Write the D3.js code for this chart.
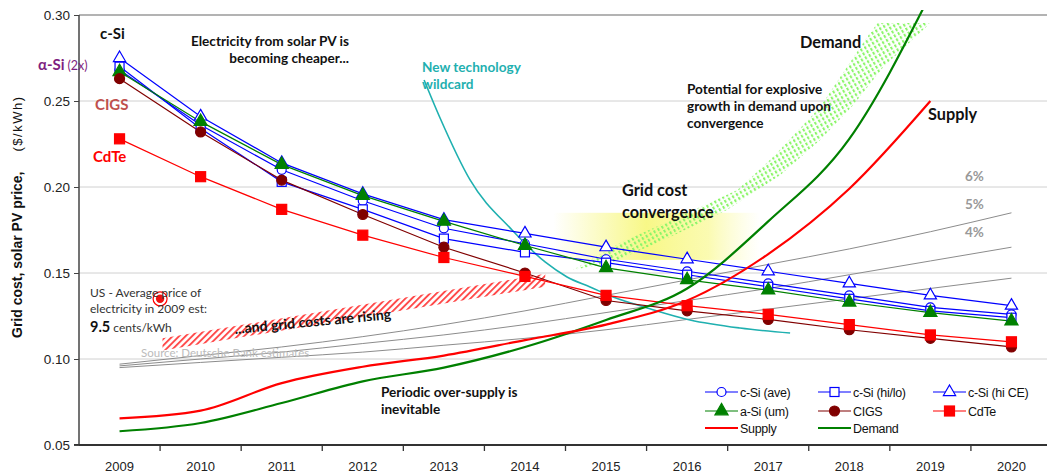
<!DOCTYPE html>
<html>
<head>
<meta charset="utf-8">
<script src="https://cdn.jsdelivr.net/npm/d3@7"></script>
<style>
    body { margin: 0; background: #fff; }
    svg { display: block; font-family: "Liberation Sans", Arial, sans-serif; }
    .note { font-family: Lato, "Open Sans", sans-serif; font-weight: bold; }
</style>
</head>
<body>
<div id="chart"></div>
<script>
// ---- data ($/kWh) ----
const years = [2009, 2010, 2011, 2012, 2013, 2014, 2015, 2016, 2017, 2018, 2019, 2020];

const cSiAve  = [0.268, 0.236, 0.210, 0.192, 0.176, 0.167, 0.158, 0.151, 0.144, 0.137, 0.130, 0.126];
const cSiHiLo = [0.270, 0.234, 0.203, 0.187, 0.170, 0.162, 0.156, 0.149, 0.142, 0.135, 0.128, 0.124];
const cSiHiCE = [0.275, 0.241, 0.214, 0.196, 0.181, 0.173, 0.165, 0.158, 0.151, 0.144, 0.137, 0.131];
const aSi     = [0.267, 0.238, 0.213, 0.195, 0.180, 0.166, 0.153, 0.146, 0.140, 0.133, 0.127, 0.122];
const cigs    = [0.263, 0.232, 0.204, 0.184, 0.165, 0.150, 0.134, 0.128, 0.123, 0.117, 0.112, 0.107];
const cdte    = [0.228, 0.206, 0.187, 0.172, 0.159, 0.148, 0.137, 0.131, 0.126, 0.120, 0.114, 0.110];

const sdYears = [2009, 2010, 2011, 2012, 2013, 2014, 2015, 2016, 2017, 2018, 2019];
const supply  = [0.0655, 0.070, 0.086, 0.0955, 0.102, 0.111, 0.120, 0.134, 0.161, 0.199, 0.250];
const demand  = [0.058, 0.0628, 0.0744, 0.087, 0.095, 0.107, 0.1227, 0.141, 0.180, 0.228, 0.312];

// grid cost escalation lines
const grid6 = [0.097, 0.102, 0.107, 0.113, 0.120, 0.128, 0.137, 0.146, 0.155, 0.164, 0.174, 0.185];
const grid5 = [0.096, 0.100, 0.104, 0.109, 0.114, 0.120, 0.127, 0.134, 0.141, 0.149, 0.157, 0.165];
const grid4 = [0.095, 0.098, 0.101, 0.104, 0.108, 0.112, 0.117, 0.123, 0.129, 0.135, 0.141, 0.147];

// new technology wildcard curve
const wildYears  = [2012.756, 2012.953, 2013.323, 2013.841, 2014.248, 2014.519, 2014.803, 2015.087, 2015.506, 2016.036, 2016.653, 2017.27];
const wildValues = [0.2622, 0.2401, 0.2041, 0.1750, 0.1564, 0.1477, 0.1419, 0.1360, 0.1297, 0.1227, 0.1180, 0.1151];

// demand potential band (left edge, right edge)
const bandLeftYears   = [2014.59, 2015.17, 2016.0, 2016.62, 2017.06, 2017.64, 2018.22, 2018.35];
const bandLeftValues  = [0.1517, 0.1674, 0.1849, 0.1983, 0.2174, 0.2465, 0.2872, 0.2953];
const bandRightYears  = [2015.09, 2015.79, 2016.49, 2017.15, 2017.64, 2018.05, 2018.42, 2019.0];
const bandRightValues = [0.1564, 0.1709, 0.1866, 0.2070, 0.2273, 0.2477, 0.2698, 0.2953];

// rising grid cost band
const riseYears = [2009.53, 2014.25];
const riseLow   = [0.1050, 0.1420];
const riseHigh  = [0.1120, 0.1495];

// grid cost convergence zone
const zoneYears  = [2014.35, 2016.9];
const zoneValues = [0.1576, 0.185];

const usPrice = {year: 2009.5, value: 0.135};

const yTicks = [0.05, 0.10, 0.15, 0.20, 0.25, 0.30];

// ---- layout ----
const W = 1047, H = 476;
const plotL = 79, plotR = 1052, plotT = 15, plotB = 445;

const svg = d3.select("#chart").append("svg")
    .attr("width", W)
    .attr("height", H);

const x = d3.scaleBand().domain(years).range([plotL, plotR]).padding(0);
const xc = d => x(d) + x.bandwidth() / 2;
// continuous year scale for the annotation curves
const xl = d3.scaleLinear().domain([2009, 2020]).range([xc(2009), xc(2020)]);
const y = d3.scaleLinear().domain([0.05, 0.30]).range([plotB, plotT]);

const defs = svg.append("defs");

let pr = defs.append("pattern").attr("id", "redHatch")
    .attr("patternUnits", "userSpaceOnUse").attr("width", 4.6).attr("height", 4.6)
    .attr("patternTransform", "rotate(45)");
pr.append("rect").attr("width", 1.9).attr("height", 4.6).attr("fill", "#ff4a4a");

let pg = defs.append("pattern").attr("id", "greenHatch")
    .attr("patternUnits", "userSpaceOnUse").attr("width", 4.5).attr("height", 4.5)
    .attr("patternTransform", "rotate(-30)");
pg.append("rect").attr("width", 2).attr("height", 3).attr("fill", "#8cf56a");

let yg = defs.append("linearGradient").attr("id", "yellowGlow");
yg.append("stop").attr("offset", "0").attr("stop-color", "#f7f77a").attr("stop-opacity", 0);
yg.append("stop").attr("offset", "0.45").attr("stop-color", "#f7f77a").attr("stop-opacity", 0.9);
yg.append("stop").attr("offset", "0.75").attr("stop-color", "#f9f990").attr("stop-opacity", 0.7);
yg.append("stop").attr("offset", "1").attr("stop-color", "#fbfbb0").attr("stop-opacity", 0);

defs.append("clipPath").attr("id", "plotClip")
    .append("rect").attr("x", plotL).attr("y", plotT - 5).attr("width", W - plotL).attr("height", plotB - plotT + 5);

// gridlines
svg.append("g").selectAll("line")
    .data(yTicks.slice(1))
    .join("line")
    .attr("x1", plotL).attr("x2", W)
    .attr("y1", d => y(d)).attr("y2", d => y(d))
    .attr("stroke", (d, i) => i === 4 ? "#b3b3b3" : "#d0d0d0")
    .attr("stroke-width", (d, i) => i === 4 ? 2 : 1);

// convergence glow
svg.append("rect")
    .attr("x", xl(zoneYears[0])).attr("width", xl(zoneYears[1]) - xl(zoneYears[0]))
    .attr("y", y(zoneValues[1])).attr("height", y(zoneValues[0]) - y(zoneValues[1]))
    .attr("fill", "url(#yellowGlow)");

// demand potential band
const bandPts = bandLeftYears.map((d, i) => [xl(d), y(bandLeftValues[i])])
    .concat(bandRightYears.map((d, i) => [xl(d), y(bandRightValues[i])]).reverse());
svg.append("path")
    .attr("d", d3.line().curve(d3.curveLinearClosed)(bandPts))
    .attr("fill", "url(#greenHatch)");

// rising grid cost band
const risePts = [[xl(riseYears[0]), y(riseHigh[0])], [xl(riseYears[1]), y(riseHigh[1])],
                 [xl(riseYears[1]), y(riseLow[1])], [xl(riseYears[0]), y(riseLow[0])]];
svg.append("path")
    .attr("d", d3.line().curve(d3.curveLinearClosed)(risePts))
    .attr("fill", "url(#redHatch)");

// grid cost lines
[grid6, grid5, grid4].forEach(s => {
    svg.append("path")
        .datum(s)
        .attr("fill", "none")
        .attr("stroke", "#8c8c8c")
        .attr("stroke-width", 1)
        .attr("d", d3.line().curve(d3.curveMonotoneX)
            .x((d, i) => xc(years[i]))
            .y(d => y(d)));
});

// wildcard curve
svg.append("path")
    .datum(wildYears)
    .attr("fill", "none")
    .attr("stroke", "#1fb0b0")
    .attr("stroke-width", 1.6)
    .attr("d", d3.line().curve(d3.curveMonotoneX)
        .x(d => xl(d))
        .y((d, i) => y(wildValues[i])));

// axes
svg.append("line").attr("x1", plotL).attr("x2", plotL).attr("y1", plotT).attr("y2", plotB)
    .attr("stroke", "#444").attr("stroke-width", 1.5);
svg.append("line").attr("x1", plotL - 5).attr("x2", W).attr("y1", plotB).attr("y2", plotB)
    .attr("stroke", "#333").attr("stroke-width", 2);

const yAxis = d3.axisLeft(y).tickValues(yTicks).tickFormat(d3.format(".2f")).tickSize(5).tickPadding(4);
const ya = svg.append("g").attr("transform", `translate(${plotL},0)`).call(yAxis);
ya.select(".domain").remove();
ya.selectAll("line").attr("stroke", "#444");
ya.selectAll("text").attr("font-size", 13.5).attr("fill", "#222")
    .attr("font-family", "Liberation Sans, Arial, sans-serif");

const xAxis = d3.axisBottom(x).tickSize(0).tickPadding(17);
const xa = svg.append("g").attr("transform", `translate(0,${plotB})`).call(xAxis);
xa.select(".domain").remove();
xa.selectAll("text").attr("font-size", 13).attr("fill", "#222")
    .attr("font-family", "Liberation Sans, Arial, sans-serif");
svg.append("g").selectAll("line")
    .data(years.slice(1))
    .join("line")
    .attr("x1", d => x(d)).attr("x2", d => x(d))
    .attr("y1", plotB).attr("y2", plotB + 6)
    .attr("stroke", "#333").attr("stroke-width", 1.3);

// PV cost series
const series = [
    {name: "c-Si (ave)",  values: cSiAve,  color: "#0000ff", shape: "circle",   fill: "#fff"},
    {name: "c-Si (hi/lo)", values: cSiHiLo, color: "#0000ff", shape: "square",   fill: "#fff"},
    {name: "c-Si (hi CE)", values: cSiHiCE, color: "#0000ff", shape: "triangle", fill: "#fff"},
    {name: "a-Si (um)",   values: aSi,     color: "#008000", shape: "triangle", fill: "#008000"},
    {name: "CIGS",        values: cigs,    color: "#800000", shape: "circle",   fill: "#800000"},
    {name: "CdTe",        values: cdte,    color: "#ff0000", shape: "square",   fill: "#ff0000"}
];

function marker(sel, s, cx, cy) {
    const filled = s.fill !== "#fff";
    if (s.shape === "circle") {
        sel.append("circle").attr("cx", cx).attr("cy", cy).attr("r", filled ? 5 : 4.5)
            .attr("fill", s.fill).attr("stroke", s.color).attr("stroke-width", 1.2);
    } else if (s.shape === "square") {
        const a = filled ? 10 : 9;
        sel.append("rect").attr("x", cx - a / 2).attr("y", cy - a / 2).attr("width", a).attr("height", a)
            .attr("fill", s.fill).attr("stroke", s.color).attr("stroke-width", 1.2);
    } else {
        sel.append("path").attr("transform", `translate(${cx},${cy})`)
            .attr("d", d3.symbol(d3.symbolTriangle, filled ? 75 : 65)())
            .attr("fill", s.fill).attr("stroke", s.color).attr("stroke-width", 1.2);
    }
}

series.forEach(s => {
    svg.append("path")
        .datum(s.values)
        .attr("fill", "none")
        .attr("stroke", s.color)
        .attr("stroke-width", 1.2)
        .attr("d", d3.line().x((d, i) => xc(years[i])).y(d => y(d)));
});
series.forEach(s => {
    const g = svg.append("g");
    s.values.forEach((v, i) => marker(g, s, xc(years[i]), y(v)));
});

// supply / demand
const sdLine = d3.line().curve(d3.curveMonotoneX).x((d, i) => xc(sdYears[i])).y(d => y(d));
const sd = svg.append("g").attr("clip-path", "url(#plotClip)");
sd.append("path").datum(demand).attr("fill", "none").attr("stroke", "#008000")
    .attr("stroke-width", 2.2).attr("d", sdLine);
sd.append("path").datum(supply).attr("fill", "none").attr("stroke", "#ff0000")
    .attr("stroke-width", 2.2).attr("d", sdLine);

// US average price marker
svg.append("circle").attr("cx", xl(usPrice.year)).attr("cy", y(usPrice.value)).attr("r", 7)
    .attr("fill", "#fff").attr("stroke", "#ff0000").attr("stroke-width", 1.2);
svg.append("circle").attr("cx", xl(usPrice.year)).attr("cy", y(usPrice.value)).attr("r", 4.2)
    .attr("fill", "#ee1111");

// ---- annotations ----
function note(lines, x0, y0, size, color, anchor, lh) {
    const t = svg.append("text").attr("class", "note")
        .attr("x", x0).attr("y", y0)
        .attr("font-size", size).attr("fill", color)
        .attr("text-anchor", anchor || "start");
    lines.forEach((l, i) => t.append("tspan").attr("x", x0).attr("dy", i ? (lh || size * 1.35) : 0).text(l));
    return t;
}

note(["c-Si"], 100, 39, 15, "#111");
const asi = note(["α-Si"], 38, 70, 15, "#7f1f80");
asi.append("tspan").attr("font-weight", "normal").attr("font-size", 12.5).attr("dx", 3).text("(2x)");
note(["CIGS"], 95, 110, 15, "#c0504d");
note(["CdTe"], 93, 162, 15, "#ff0000");
note(["Electricity from solar PV is", "becoming cheaper..."], 349, 46, 13.6, "#111", "end", 17);
note(["New technology", "wildcard"], 422, 72, 13.6, "#1fb0b0", "start", 17);
note(["Demand"], 800, 48, 16.3, "#111");
note(["Potential for explosive", "growth in demand upon", "convergence"], 687, 94, 13.6, "#111", "start", 17);
note(["Supply"], 928, 120, 16.3, "#111");
note(["Grid cost", "convergence"], 622, 196, 16.3, "#111", "start", 22);
note(["6%"], 965, 181, 13.5, "#999");
note(["5%"], 965, 209, 13.5, "#999");
note(["4%"], 965, 237, 13.5, "#999");
note(["Periodic over-supply is", "inevitable"], 381, 397, 13.6, "#111", "start", 17);

const us = svg.append("text").attr("font-family", "Lato, 'Open Sans', sans-serif")
    .attr("font-size", 12).attr("fill", "#333");
us.append("tspan").attr("x", 90).attr("y", 297).text("US - Average price of");
us.append("tspan").attr("x", 90).attr("y", 313).text("electricity in 2009 est:");
us.append("tspan").attr("x", 90).attr("y", 332).attr("font-weight", "bold").attr("font-size", 14.5).attr("fill", "#111").text("9.5");
us.append("tspan").text(" cents/kWh");

svg.append("text").attr("class", "note")
    .attr("transform", "translate(235,334) rotate(-5.5)")
    .attr("font-size", 14.1).attr("fill", "#111")
    .text("...and grid costs are rising");

svg.append("text").attr("font-family", "Lato, 'Open Sans', sans-serif")
    .attr("x", 141).attr("y", 357).attr("font-size", 11.5).attr("fill", "#bbb")
    .text("Source: Deutsche Bank estimates");

// y axis title
const yt = svg.append("text")
    .attr("transform", "translate(22,338) rotate(-90)")
    .attr("font-size", 14).attr("fill", "#111");
yt.append("tspan").attr("font-weight", "bold").text("Grid cost, solar PV price,");
yt.append("tspan").attr("dx", 20).attr("font-size", 13).attr("letter-spacing", 1.5).text("($/kWh)");

// ---- legend ----
const legendItems = series.map(s => ({name: s.name, s: s}))
    .concat([{name: "Supply", color: "#ff0000"}, {name: "Demand", color: "#008000"}]);
const legCols = [705, 818, 933], legRows = [392, 411, 428];
legendItems.forEach((d, i) => {
    const lx = legCols[i % 3], ly = legRows[Math.floor(i / 3)];
    const g = svg.append("g");
    const c = d.s ? d.s.color : d.color;
    g.append("line").attr("x1", lx).attr("x2", lx + 33).attr("y1", ly).attr("y2", ly)
        .attr("stroke", c).attr("stroke-width", d.s ? 1.2 : 2);
    if (d.s) marker(g, d.s, lx + 16.5, ly);
    g.append("text").attr("x", lx + 35).attr("y", ly + 4.5)
        .attr("font-size", 12.5).attr("fill", "#111").attr("letter-spacing", -0.3).text(d.name);
});
</script>
</body>
</html>
